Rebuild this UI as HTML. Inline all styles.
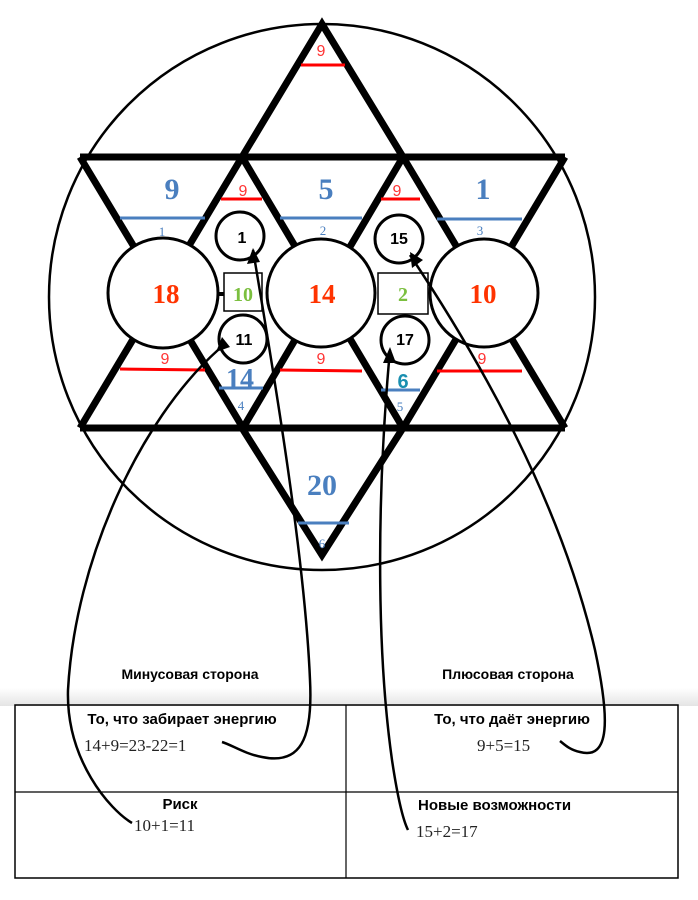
<!DOCTYPE html>
<html><head><meta charset="utf-8"><style>
html,body{margin:0;padding:0;background:#fff;width:698px;height:900px;overflow:hidden}
svg{display:block}
.s{font-family:"Liberation Sans",sans-serif}
</style></head><body>
<svg width="698" height="900" viewBox="0 0 698 900" xmlns="http://www.w3.org/2000/svg">
<defs>
<linearGradient id="g" x1="0" y1="0" x2="0" y2="1"><stop offset="0" stop-color="#fff"/><stop offset="1" stop-color="#e4e4e4"/></linearGradient>
</defs>
<rect x="0" y="688" width="698" height="18" fill="url(#g)"/>
<circle cx="322" cy="297" r="273" fill="none" stroke="#000" stroke-width="2.5"/>
<g stroke="#000" stroke-width="7" fill="none" stroke-linejoin="miter" stroke-miterlimit="2" stroke-linecap="butt">
<polygon points="322,24 242,157 403,157"/>
<polygon points="322,555 242,428 403,428"/>
<line x1="80" y1="157" x2="565" y2="157"/>
<line x1="80" y1="428" x2="565" y2="428"/>
<line x1="80" y1="157" x2="243" y2="428"/>
<line x1="242" y1="157" x2="403" y2="428"/>
<line x1="403" y1="157" x2="565" y2="428"/>
<line x1="565" y1="157" x2="403" y2="428"/>
<line x1="403" y1="157" x2="243" y2="428"/>
<line x1="242" y1="157" x2="80" y2="428"/>
</g>
<g stroke-width="3">
<line x1="301" y1="65" x2="345" y2="65" stroke="#f00"/>
<line x1="120" y1="218" x2="205" y2="218" stroke="#4a7fbf"/>
<line x1="280" y1="218" x2="362" y2="218" stroke="#4a7fbf"/>
<line x1="437" y1="219" x2="522" y2="219" stroke="#4a7fbf"/>
<line x1="221" y1="199" x2="262" y2="199" stroke="#f00"/>
<line x1="381" y1="199" x2="420" y2="199" stroke="#f00"/>
<line x1="120" y1="369" x2="205" y2="370" stroke="#f00"/>
<line x1="280" y1="370" x2="362" y2="371" stroke="#f00"/>
<line x1="437" y1="371" x2="522" y2="371" stroke="#f00"/>
<line x1="219" y1="388" x2="263" y2="388" stroke="#4a7fbf"/>
<line x1="381" y1="390" x2="420" y2="390" stroke="#4a7fbf"/>
<line x1="298" y1="523" x2="349" y2="523" stroke="#4a7fbf"/>
</g>
<g font-family="Liberation Sans,sans-serif" fill="#f33" font-size="16" text-anchor="middle">
<text x="321" y="56">9</text><text x="243" y="196">9</text><text x="397" y="196">9</text>
<text x="165" y="364">9</text><text x="321" y="364">9</text><text x="482" y="364">9</text>
</g>
<g font-family="Liberation Serif,serif" font-weight="bold" fill="#4a7fbf" text-anchor="middle">
<text x="172" y="199" font-size="30">9</text><text x="326" y="199" font-size="30">5</text>
<text x="483" y="199" font-size="30">1</text><text x="240" y="388" font-size="28">14</text>
<text x="322" y="495" font-size="30">20</text>
<text x="403" y="388" font-size="20" fill="#1a8fb0" font-family="Liberation Sans,sans-serif">6</text>
</g>
<g font-family="Liberation Serif,serif" fill="#4a7fbf" font-size="13" text-anchor="middle">
<text x="162" y="236">1</text><text x="323" y="235">2</text><text x="480" y="235">3</text>
<text x="241" y="410">4</text><text x="400" y="411">5</text><text x="322" y="548">6</text>
</g>
<line x1="215" y1="294" x2="225" y2="294" stroke="#000" stroke-width="4"/>
<rect x="224" y="273" width="38" height="38" fill="#fff" stroke="#000" stroke-width="1.5"/>
<rect x="378" y="273" width="50" height="41" fill="#fff" stroke="#000" stroke-width="1.5"/>
<g font-family="Liberation Serif,serif" font-weight="bold" fill="#7bbf3f" text-anchor="middle" font-size="20">
<text x="243" y="301">10</text><text x="403" y="301">2</text></g>
<g fill="#fff" stroke="#000" stroke-width="3">
<circle cx="163" cy="293" r="55"/><circle cx="321" cy="293" r="54"/><circle cx="484" cy="293" r="54"/>
<circle cx="240" cy="236" r="24"/><circle cx="243" cy="339" r="24"/>
<circle cx="399" cy="239" r="24"/><circle cx="405" cy="340" r="24"/>
</g>
<g font-family="Liberation Serif,serif" font-weight="bold" fill="#ff3300" text-anchor="middle" font-size="27">
<text x="166" y="303">18</text><text x="322" y="303">14</text><text x="483" y="303">10</text></g>
<g font-family="Liberation Sans,sans-serif" font-weight="bold" fill="#000" text-anchor="middle" font-size="16">
<text x="242" y="243">1</text><text x="244" y="345">11</text><text x="399" y="244">15</text><text x="405" y="345">17</text></g>
<g fill="none" stroke="#000" stroke-width="2.5">
<path d="M253,250 C275,380 305,560 310,680 C313,740 300,765 262,757 C245,754 232,745 222,742"/>
<path d="M218,350 C140,420 75,560 68,690 C66,760 110,810 132,823"/>
<path d="M410,255 C480,360 560,500 595,650 C610,720 610,760 580,752 C570,750 565,745 560,741"/>
<path d="M390,350 C378,480 375,640 392,760 C398,800 403,820 408,830"/>
</g>
<g fill="#000">
<polygon points="253,248 247,264 260,262"/>
<polygon points="216,352 222,337 230,347"/>
<polygon points="410,252 412,268 423,260"/>
<polygon points="390,347 383,363 396,363"/>
</g>
<g class="s" font-size="14" font-weight="bold" text-anchor="middle" fill="#000">
<text x="190" y="679">Минусовая сторона</text>
<text x="508" y="679">Плюсовая сторона</text>
</g>
<rect x="15" y="705" width="663" height="173" fill="none" stroke="#000" stroke-width="1.5"/>
<line x1="346" y1="705" x2="346" y2="878" stroke="#000" stroke-width="1.2"/>
<line x1="15" y1="792" x2="678" y2="792" stroke="#000" stroke-width="1.2"/>
<g class="s" font-weight="bold" font-size="15" fill="#000" text-anchor="middle">
<text x="182" y="724">То, что забирает энергию</text>
<text x="512" y="724">То, что даёт энергию</text>
<text x="180" y="809">Риск</text>
</g>
<text class="s" x="418" y="810" font-weight="bold" font-size="15">Новые возможности</text>
<g font-family="Liberation Serif,serif" font-size="17" fill="#222">
<text x="84" y="751">14+9=23-22=1</text>
<text x="477" y="751">9+5=15</text>
<text x="134" y="831">10+1=11</text>
<text x="416" y="837">15+2=17</text>
</g>
</svg>
</body></html>
